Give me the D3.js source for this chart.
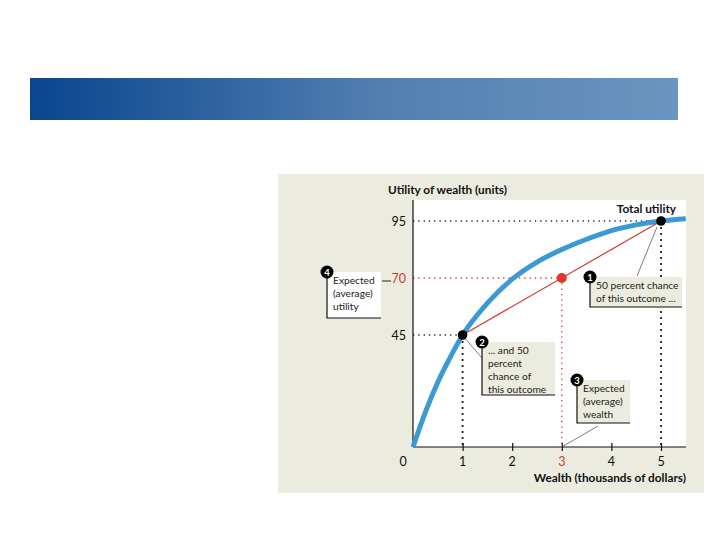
<!DOCTYPE html>
<html>
<head>
<meta charset="utf-8">
<script src="https://cdn.jsdelivr.net/npm/d3@7"></script>
<style>
  body { margin: 0; background: #fff; }
  svg { display: block; font-family: Lato, "Open Sans", sans-serif; }
</style>
</head>
<body>
<svg width="720" height="540"></svg>
<script>
// values
var wealth = [0, 0.25, 0.5, 0.75, 1, 1.5, 2, 2.5, 3, 3.5, 4, 4.5, 5, 5.5];
var utility = [0, 14, 26, 36, 45, 59, 69.5, 77, 82.5, 87, 90.8, 93.3, 95, 96];
var xTicks = [1, 2, 3, 4, 5];
var yLabels = [95, 70, 45];
var outcomes = [[1, 45], [5, 95]];
var expected = [3, 70];

var svg = d3.select('svg');

// banner
var grad = svg.append('defs').append('linearGradient').attr('id', 'band');
grad.append('stop').attr('offset', '0%').attr('stop-color', '#0a458f');
grad.append('stop').attr('offset', '55%').attr('stop-color', '#5380b1');
grad.append('stop').attr('offset', '100%').attr('stop-color', '#6b95c0');
svg.append('rect').attr('x', 30).attr('y', 78).attr('width', 648).attr('height', 42)
  .attr('fill', 'url(#band)');

// panel + plot area
svg.append('rect').attr('x', 278).attr('y', 174).attr('width', 426).attr('height', 319)
  .attr('fill', '#ecebdf');
svg.append('rect').attr('x', 413).attr('y', 200).attr('width', 273).attr('height', 247)
  .attr('fill', '#fff');

var x = d3.scaleLinear().domain([0, 5]).range([413, 661]);
var y = d3.scaleLinear().domain([0, 45, 95]).range([447, 335, 221]);

var red = '#d0392e';

// guide lines
function guide(pts, color, dash, w) {
  svg.append('path')
    .attr('d', d3.line().x(function (d) { return x(d[0]); }).y(function (d) { return y(d[1]); })(pts))
    .attr('fill', 'none').attr('stroke', color).attr('stroke-width', w)
    .attr('stroke-dasharray', dash);
}
guide([[0, 95], [5, 95]], '#222', '1.3,4', 1.3);
guide([[0, 45], [1, 45]], '#222', '1.3,4', 1.3);
guide([[5, 95], [5, 0]], '#222', '2,4', 1.8);
guide([[1, 45], [1, 0]], '#222', '2,4', 1.8);
guide([[0, 70], [3, 70]], red, '1.3,4', 1.3);
guide([[3, 70], [3, 0]], red, '1.3,4', 1.3);

// axes
svg.append('line').attr('x1', 413).attr('x2', 413).attr('y1', 200).attr('y2', 447)
  .attr('stroke', '#111').attr('stroke-width', 1.2);
var xAxis = svg.append('g').attr('transform', 'translate(0,447)')
  .call(d3.axisBottom(x).tickValues(xTicks).tickSize(4).tickFormat(''));
xAxis.select('.domain').attr('d', 'M413,0H686').attr('stroke', '#111').attr('stroke-width', 1.2);
xAxis.selectAll('.tick line').attr('y1', -4).attr('stroke', '#111').attr('stroke-width', 1.2);

svg.selectAll('.xlab').data([0].concat(xTicks)).enter().append('text')
  .attr('x', function (d) { return d === 0 ? 403 : x(d); })
  .attr('y', 466)
  .attr('text-anchor', 'middle')
  .attr('font-size', 12.5)
  .attr('fill', function (d) { return d === expected[0] ? red : '#111'; })
  .text(function (d) { return d; });

svg.selectAll('.ylab').data(yLabels).enter().append('text')
  .attr('x', 406).attr('y', function (d) { return y(d) + 4.5; })
  .attr('text-anchor', 'end').attr('font-size', 12.5)
  .attr('fill', function (d) { return d === expected[1] ? red : '#111'; })
  .text(function (d) { return d; });

svg.append('text').attr('x', 388).attr('y', 194).attr('font-size', 11.8).attr('font-weight', 'bold')
  .attr('fill', '#111').text('Utility of wealth (units)');
svg.append('text').attr('x', 686).attr('y', 482).attr('text-anchor', 'end').attr('font-size', 11.8)
  .attr('font-weight', 'bold').attr('fill', '#111').text('Wealth (thousands of dollars)');
svg.append('text').attr('x', 676).attr('y', 213).attr('text-anchor', 'end').attr('font-size', 11.8)
  .attr('font-weight', 'bold').attr('fill', '#111').text('Total utility');

// utility curve
svg.append('path')
  .datum(d3.zip(wealth, utility))
  .attr('d', d3.line().curve(d3.curveMonotoneX)
    .x(function (d) { return x(d[0]); }).y(function (d) { return y(d[1]); }))
  .attr('fill', 'none').attr('stroke', '#3b9ad5').attr('stroke-width', 5);

// chord
guide(outcomes, red, null, 1.2);

// leader lines
function leader(x1, y1, x2, y2) {
  svg.append('line').attr('x1', x1).attr('y1', y1).attr('x2', x2).attr('y2', y2)
    .attr('stroke', '#444').attr('stroke-width', 0.7);
}
leader(637, 276, x(5) - 4, y(95) + 6);
leader(482, 358, x(1) + 3, y(45) + 4);
leader(598, 426, x(3), 447);

// points
svg.selectAll('.pt').data(outcomes).enter().append('circle')
  .attr('cx', function (d) { return x(d[0]); }).attr('cy', function (d) { return y(d[1]); })
  .attr('r', 4.8).attr('fill', '#000');
svg.append('circle').attr('cx', x(expected[0])).attr('cy', y(expected[1])).attr('r', 5)
  .attr('fill', '#e0382b');

// annotation boxes
function box(n, bx, by, w, h, fill, lines) {
  var g = svg.append('g');
  g.append('rect').attr('x', bx).attr('y', by).attr('width', w).attr('height', h).attr('fill', fill);
  g.append('path').attr('d', 'M' + bx + ',' + by + 'V' + (by + h) + 'H' + (bx + w))
    .attr('fill', 'none').attr('stroke', '#111').attr('stroke-width', 1.2);
  lines.forEach(function (t, i) {
    g.append('text').attr('x', bx + 6).attr('y', by + 12 + i * 13).attr('font-size', 10.2)
      .attr('fill', '#222').text(t);
  });
  g.append('circle').attr('cx', bx).attr('cy', by).attr('r', 6.5).attr('fill', '#000');
  g.append('text').attr('x', bx).attr('y', by + 3.5).attr('text-anchor', 'middle')
    .attr('font-size', 9.5).attr('font-weight', 'bold').attr('fill', '#fff').text(n);
}
box(1, 590, 277, 92, 30, '#ecebdf', ['50 percent chance', 'of this outcome ...']);
box(2, 482, 342, 73, 53, '#ecebdf', ['... and 50', 'percent', 'chance of', 'this outcome']);
box(3, 577, 380, 53, 43, '#ecebdf', ['Expected', '(average)', 'wealth']);
box(4, 327, 272, 54, 46, '#fff', ['Expected', '(average)', 'utility']);
svg.append('line').attr('x1', 382).attr('x2', 391).attr('y1', 281).attr('y2', 281)
  .attr('stroke', '#222').attr('stroke-width', 1);
</script>
</body>
</html>
